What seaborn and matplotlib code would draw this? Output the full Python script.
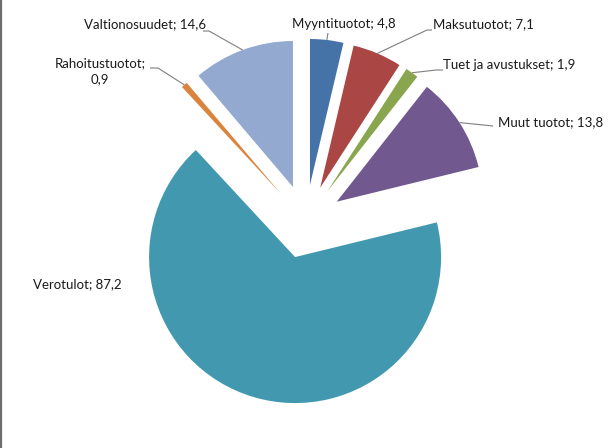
"""
plot.py
============================
Exploded pie of municipal income items (Excel-style), rebuilt with seaborn/matplotlib.
"""

import matplotlib
matplotlib.use('Agg')
import matplotlib.pyplot as plt
import numpy as np
import seaborn as sns

# ---------------------------------------------------------------------------
# Data
# ---------------------------------------------------------------------------

labels = ['Myyntituotot', 'Maksutuotot', 'Tuet ja avustukset', 'Muut tuotot',
          'Verotulot', 'Rahoitustuotot', 'Valtionosuudet']
values = [4.8, 7.1, 1.9, 13.8, 87.2, 0.9, 14.6]
value_text = ['4,8', '7,1', '1,9', '13,8', '87,2', '0,9', '14,6']

colors = ['#4572A7', '#AA4643', '#89A54E', '#71588F',
          '#4198AF', '#DB843D', '#93A9CF']

# ---------------------------------------------------------------------------
# Layout (pixel space of the 611x448 canvas, origin top-left)
# ---------------------------------------------------------------------------

W, H      = 611, 448
CX, CY    = 305.7, 221.7   # pie centre
R_PX      = 146.0          # radius in px
EXPLODE   = 0.253

# label anchor, alignment, leader start points (text side)
label_layout = {
    'Myyntituotot':       dict(xy=(344, 24), ha='center', lead=[(328, 33)]),
    'Maksutuotot':        dict(xy=(433, 24), ha='left',   lead=[(432, 30), (427, 30)]),
    'Tuet ja avustukset': dict(xy=(443, 65), ha='left',   lead=[(443, 70), (436, 70)]),
    'Muut tuotot':        dict(xy=(498, 122), ha='left',  lead=[(493, 126)]),
    'Verotulot':          dict(xy=(33, 284), ha='left',   lead=[]),
    'Rahoitustuotot':     dict(xy=(100, 71), ha='center', lead=[(150, 68), (158, 68)]),
    'Valtionosuudet':     dict(xy=(206, 24), ha='right',  lead=[(203, 31), (209, 31)]),
}


def px(x, y):
    """Pixel (top-left origin) -> data coordinates of the pie axes."""
    return (x - CX) / R_PX, (CY - y) / R_PX


# ---------------------------------------------------------------------------
# Figure
# ---------------------------------------------------------------------------

sns.set_style('white')
plt.rcParams['font.family'] = ['Lato', 'DejaVu Sans']

fig = plt.figure(figsize=(W / 100, H / 100), dpi=100)
ax  = fig.add_axes([0, 0, 1, 1])

wedges, _ = ax.pie(values, colors=colors, startangle=90, counterclock=False,
                   explode=[EXPLODE] * len(values), radius=1,
                   wedgeprops=dict(linewidth=0))

x0, y0 = px(0, H)
x1, y1 = px(W, 0)
ax.set_xlim(x0, x1)
ax.set_ylim(y0, y1)
ax.set_aspect('auto')
ax.axis('off')

for wedge, name, vtxt in zip(wedges, labels, value_text):
    lay = label_layout[name]
    tx, ty = px(*lay['xy'])
    text = f'{name};\n{vtxt}' if name == 'Rahoitustuotot' else f'{name}; {vtxt}'
    ax.text(tx, ty, text, ha=lay['ha'], va='center', fontsize=9.5,
            color='#1a1a1a', linespacing=1.45)

    if not lay['lead']:
        continue
    # leader ends on the middle of the wedge's outer arc
    mid = np.deg2rad((wedge.theta1 + wedge.theta2) / 2)
    cx, cy = wedge.center
    end = (cx + wedge.r * np.cos(mid), cy + wedge.r * np.sin(mid))
    pts = [px(*p) for p in lay['lead']] + [end]
    ax.plot([p[0] for p in pts], [p[1] for p in pts],
            color='#7f7f7f', lw=0.8, solid_capstyle='butt')

# chart-area border on the left edge
fig.add_artist(plt.Line2D([0.0015, 0.0015], [0, 1], transform=fig.transFigure,
                          color='#6e6e6e', lw=1.6))

fig.savefig('out.png', dpi=100, facecolor='white')
